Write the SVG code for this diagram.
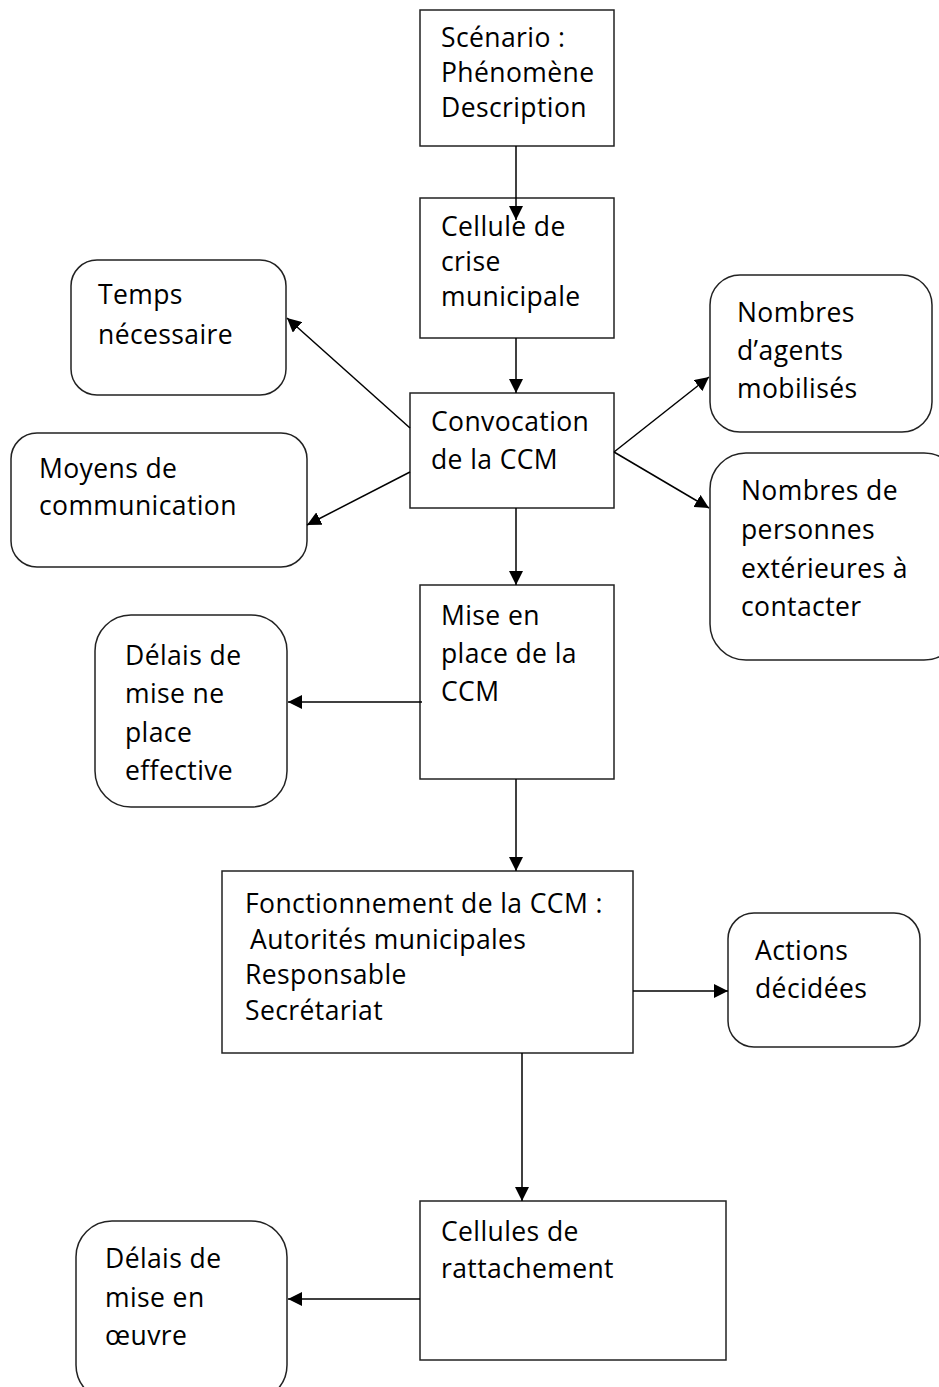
<svg xmlns="http://www.w3.org/2000/svg" width="939" height="1387" viewBox="0 0 939 1387">
<style>
.box{fill:#fff;stroke:#222;stroke-width:1.5}
.t{font-family:"Open Sans","Noto Sans","Liberation Sans",sans-serif;font-size:26.5px;letter-spacing:0.4px;fill:#000}
.c{stroke:#000;stroke-width:1.5;fill:none;marker-end:url(#ah)}
</style>
<defs>
<marker id="ah" markerUnits="userSpaceOnUse" markerWidth="15" markerHeight="14" refX="14" refY="7" orient="auto">
<path d="M0,0 L14,7 L0,14 z" fill="#000"/>
</marker>
</defs>
<rect width="939" height="1387" fill="#fff"/>
<g id="n-scenario">
<rect class="box" x="420" y="10" width="194" height="136"/>
<text class="t" x="441" y="47">Scénario :</text>
<text class="t" x="441" y="82">Phénomène</text>
<text class="t" x="441" y="117">Description</text>
</g>
<g id="n-cellule">
<rect class="box" x="420" y="198" width="194" height="140"/>
<text class="t" x="441" y="236">Cellule de</text>
<text class="t" x="441" y="271">crise</text>
<text class="t" x="441" y="306">municipale</text>
</g>
<g id="n-temps">
<rect class="box" x="71" y="260" width="215" height="135" rx="26"/>
<text class="t" x="98" y="304">Temps</text>
<text class="t" x="98" y="344">nécessaire</text>
</g>
<g id="n-moyens">
<rect class="box" x="11" y="433" width="296" height="134" rx="26"/>
<text class="t" x="39" y="478">Moyens de</text>
<text class="t" x="39" y="515">communication</text>
</g>
<g id="n-convocation">
<rect class="box" x="410" y="393" width="204" height="115"/>
<text class="t" x="431" y="431">Convocation</text>
<text class="t" x="431" y="469">de la CCM</text>
</g>
<g id="n-agents">
<rect class="box" x="710" y="275" width="222" height="157" rx="30"/>
<text class="t" x="737" y="322">Nombres</text>
<text class="t" x="737" y="360">d’agents</text>
<text class="t" x="737" y="398">mobilisés</text>
</g>
<g id="n-personnes">
<rect class="box" x="710" y="453" width="250" height="207" rx="36"/>
<text class="t" x="741" y="500">Nombres de</text>
<text class="t" x="741" y="539">personnes</text>
<text class="t" x="741" y="578">extérieures à</text>
<text class="t" x="741" y="616">contacter</text>
</g>
<g id="n-mise">
<rect class="box" x="420" y="585" width="194" height="194"/>
<text class="t" x="441" y="625">Mise en</text>
<text class="t" x="441" y="663">place de la</text>
<text class="t" x="441" y="701">CCM</text>
</g>
<g id="n-delais1">
<rect class="box" x="95" y="615" width="192" height="192" rx="36"/>
<text class="t" x="125" y="665">Délais de</text>
<text class="t" x="125" y="703">mise ne</text>
<text class="t" x="125" y="742">place</text>
<text class="t" x="125" y="780">effective</text>
</g>
<g id="n-fonctionnement">
<rect class="box" x="222" y="871" width="411" height="182"/>
<text class="t" x="245" y="913">Fonctionnement de la CCM :</text>
<text class="t" x="250" y="949">Autorités municipales</text>
<text class="t" x="245" y="984">Responsable</text>
<text class="t" x="245" y="1020">Secrétariat</text>
</g>
<g id="n-actions">
<rect class="box" x="728" y="913" width="192" height="134" rx="26"/>
<text class="t" x="755" y="960">Actions</text>
<text class="t" x="755" y="998">décidées</text>
</g>
<g id="n-rattachement">
<rect class="box" x="420" y="1201" width="306" height="159"/>
<text class="t" x="441" y="1241">Cellules de</text>
<text class="t" x="441" y="1278">rattachement</text>
</g>
<g id="n-delais2">
<rect class="box" x="76" y="1221" width="211" height="180" rx="36"/>
<text class="t" x="105" y="1268">Délais de</text>
<text class="t" x="105" y="1307">mise en</text>
<text class="t" x="105" y="1345">œuvre</text>
</g>
<g id="connectors">
<line class="c" x1="516" y1="146" x2="516" y2="220"/>
<line class="c" x1="516" y1="338" x2="516" y2="393"/>
<line class="c" x1="410" y1="428" x2="287" y2="318"/>
<line class="c" x1="410" y1="472" x2="307" y2="525"/>
<line class="c" x1="614" y1="452" x2="709" y2="377"/>
<line class="c" x1="614" y1="452" x2="709" y2="508"/>
<line class="c" x1="516" y1="508" x2="516" y2="585"/>
<line class="c" x1="422" y1="702" x2="288" y2="702"/>
<line class="c" x1="516" y1="779" x2="516" y2="871"/>
<line class="c" x1="633" y1="991" x2="728" y2="991"/>
<line class="c" x1="522" y1="1053" x2="522" y2="1201"/>
<line class="c" x1="420" y1="1299" x2="288" y2="1299"/>
</g>
</svg>
